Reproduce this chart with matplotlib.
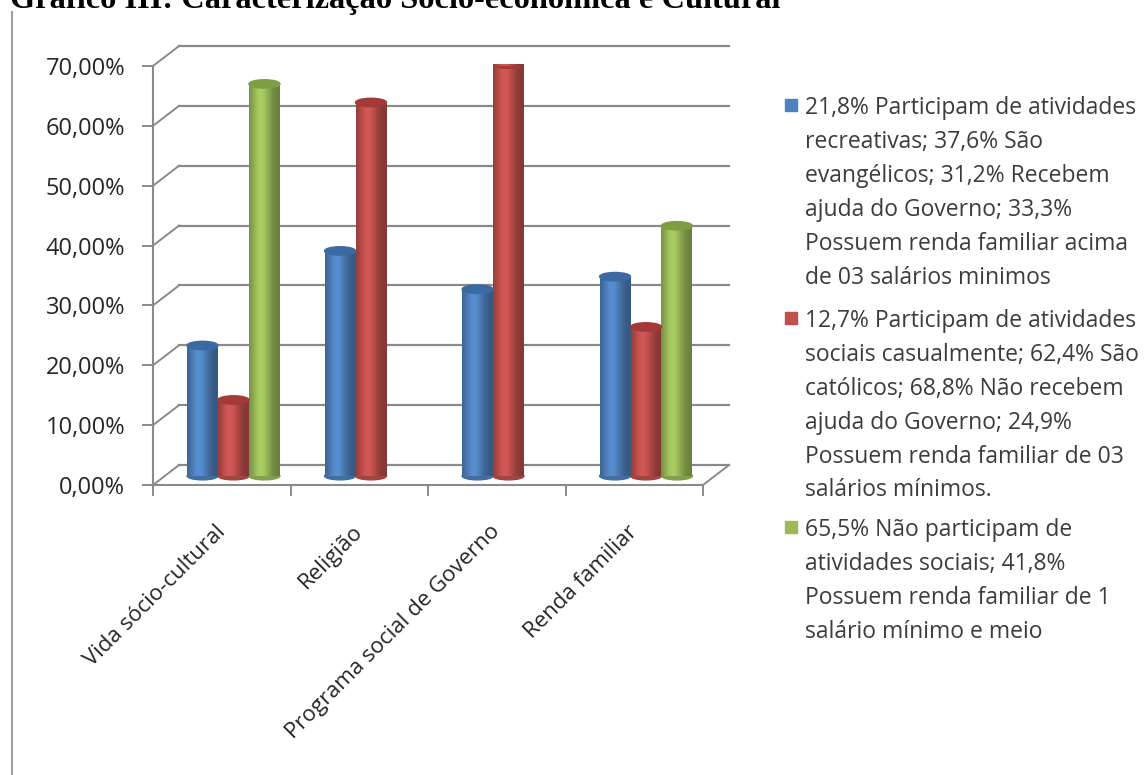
import numpy as np
import matplotlib
matplotlib.use("Agg")
import matplotlib.pyplot as plt
from matplotlib.patches import Ellipse, Rectangle
from matplotlib.lines import Line2D

plt.rcParams['font.family'] = ['Open Sans', 'DejaVu Sans']

# data
categories = ['Vida sócio-cultural', 'Religião', 'Programa social de Governo', 'Renda familiar']
serie_azul = [21.8, 37.6, 31.2, 33.3]
serie_vermelha = [12.7, 62.4, 68.8, 24.9]
serie_verde = [65.5, np.nan, np.nan, 41.8]
y_ticks = [0, 10, 20, 30, 40, 50, 60, 70]
y_labels = ['0,00%', '10,00%', '20,00%', '30,00%', '40,00%', '50,00%', '60,00%', '70,00%']
legend_labels = [
    "21,8% Participam de atividades\nrecreativas; 37,6% São\nevangélicos; 31,2% Recebem\n"
    "ajuda do Governo; 33,3%\nPossuem renda familiar acima\nde 03 salários minimos",
    "12,7% Participam de atividades\nsociais casualmente; 62,4% São\ncatólicos; 68,8% Não recebem\n"
    "ajuda do Governo; 24,9%\nPossuem renda familiar de 03\nsalários mínimos.",
    "65,5% Não participam de\natividades sociais; 41,8%\nPossuem renda familiar de 1\nsalário mínimo e meio",
]
title = "Gráfico III: Caracterização Sócio-econômica e Cultural"

colors = ['#4f81bd', '#c0504d', '#9bbb59']
tops = ['#3b6aa3', '#a33a37', '#7f9e44']
series = [serie_azul, serie_vermelha, serie_verde]

W, H = 1148, 775
fig = plt.figure(figsize=(W / 100, H / 100), dpi=100)
ax = fig.add_axes([153 / W, 1 - 485 / H, 550 / W, 419 / H])

# pseudo 3d depth (data units)
DX, DY = 0.19, 3.35
F = 0.45
grid_c = '#8a8a8a'

for v in y_ticks:
    ax.plot([DX, len(categories) + DX], [v + DY, v + DY], color=grid_c, lw=1.6, clip_on=False, zorder=1)
    ax.plot([0, DX], [v, v + DY], color=grid_c, lw=1.4, clip_on=False, zorder=1)
ax.plot([len(categories), len(categories) + DX], [0, DY], color=grid_c, lw=1.4, clip_on=False, zorder=1)

# cylinders
bw = 0.225
x = np.arange(len(categories))
t = np.linspace(0, 1, 60)
shade = 0.68 + 0.42 * np.exp(-((t - 0.38) / 0.32) ** 2)
for k, (vals, c, tc) in enumerate(zip(series, colors, tops)):
    xs = x + 0.5 + F * DX + (k - 1) * bw
    bars = ax.bar(xs, vals, width=bw, bottom=F * DY, color=c, zorder=3)
    rgb = np.array(matplotlib.colors.to_rgb(c))
    grad = np.clip(shade[:, None] * rgb[None, :], 0, 1)[None, :, :]
    for xi, v, b in zip(xs, vals, bars):
        if np.isnan(v):
            continue
        im = ax.imshow(grad, extent=[xi - bw / 2, xi + bw / 2, F * DY, F * DY + v],
                       aspect='auto', zorder=3.1, interpolation='bilinear')
        im.set_clip_path(b)
        ax.add_patch(Ellipse((xi, F * DY), bw, 1.3, color=matplotlib.colors.to_hex(rgb * 0.85), zorder=2.9))
        ax.add_patch(Ellipse((xi, F * DY + v), bw, 1.4, color=tc, zorder=3.2))

ax.set_xlim(0, len(categories))
ax.set_ylim(0, 70)

for s in ['top', 'right']:
    ax.spines[s].set_visible(False)
for s in ['left', 'bottom']:
    ax.spines[s].set_color(grid_c)
    ax.spines[s].set_linewidth(1.5)

ax.set_yticks(y_ticks)
ax.set_yticklabels(y_labels)
ax.tick_params(axis='y', length=8, width=1.4, color=grid_c, pad=12, labelsize=17, labelcolor='#262626')

ax.set_xticks(x + 0.45)
ax.set_xticklabels(categories, rotation=45, ha='right', va='top', rotation_mode='anchor')
ax.set_xticks(np.arange(len(categories) + 1), minor=True)
ax.tick_params(axis='x', which='major', length=0, pad=26, labelsize=16, labelcolor='#262626')
ax.tick_params(axis='x', which='minor', length=8, width=1.4, color=grid_c)

# legend (first-line centre of each entry, px from top)
entry_centres = [105, 318, 527]
for lab, c, yc in zip(legend_labels, colors, entry_centres):
    fig.add_artist(Rectangle((785 / W, 1 - (yc + 6) / H), 12 / W, 12 / H, color=c, transform=fig.transFigure))
    fig.text(805 / W, 1 - (yc - 9) / H, lab, va='top', ha='left', fontsize=16.5, color='#3c3c3c', linespacing=1.55)

# title (cut at top, as in the source) and left frame line
fig.text(10 / W, 1 - 8 / H, title, va='baseline', ha='left', fontsize=23.3, fontweight='bold',
         family='Liberation Serif', color='black')
fig.add_artist(Line2D([12 / W, 12 / W], [0, 1 - 12 / H], color='#a0a0a0', lw=1.5, transform=fig.transFigure))

fig.savefig('out.png', dpi=100)
